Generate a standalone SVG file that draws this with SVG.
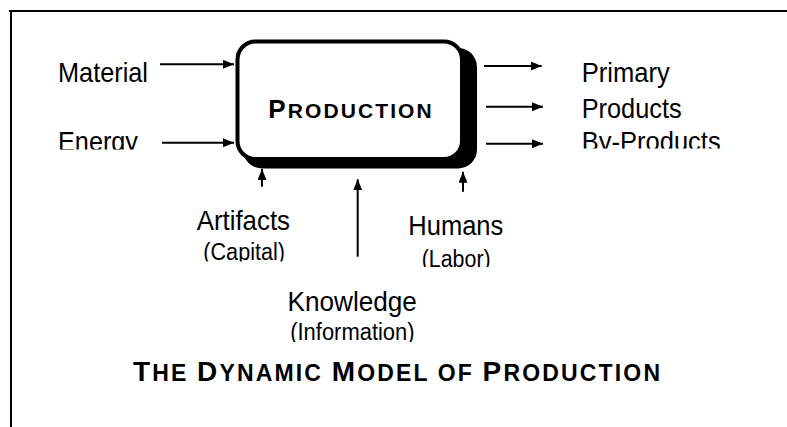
<svg xmlns="http://www.w3.org/2000/svg" width="787" height="427" viewBox="0 0 787 427">
  <style>
    .lbl { font-family: "Liberation Sans", Arial, sans-serif; font-size: 28px; fill: #000; }
    .sub { font-family: "Liberation Sans", Arial, sans-serif; font-size: 23px; fill: #000; }
    .sc { font-family: "Liberation Sans", Arial, sans-serif; font-weight: bold; fill: #000; }
    .big { font-size: 26px; }
    .small { font-size: 21px; }
    .tbig { font-size: 28px; }
    .tsmall { font-size: 23px; }
    .wire { stroke: #000; stroke-width: 2; fill: none; marker-end: url(#head); }
    .frame { stroke: #000; stroke-width: 2; fill: none; }
  </style>
  <defs>
    <marker id="head" markerUnits="userSpaceOnUse" markerWidth="12" markerHeight="10" refX="11" refY="4.5" orient="auto">
      <path d="M0,0 L11,4.5 L0,9 Z" fill="#000"/>
    </marker>
    <clipPath id="clipEnergy"><rect x="40" y="110" width="150" height="39.5"/></clipPath>
    <clipPath id="clipByProducts"><rect x="560" y="110" width="200" height="38.5"/></clipPath>
    <clipPath id="clipCapital"><rect x="180" y="235" width="130" height="26.5"/></clipPath>
    <clipPath id="clipLabor"><rect x="400" y="240" width="120" height="27"/></clipPath>
    <clipPath id="clipInformation"><rect x="270" y="316" width="170" height="26"/></clipPath>
  </defs>

  <rect width="787" height="427" fill="#fff"/>

  <!-- page frame -->
  <g id="frame">
    <line class="frame" x1="9" y1="11" x2="787" y2="11"/>
    <line class="frame" x1="11" y1="10" x2="11" y2="427"/>
  </g>

  <!-- central process box with drop shadow -->
  <g id="production">
    <rect x="243" y="48" width="234" height="120.5" rx="19" fill="#000"/>
    <rect x="237.5" y="41.5" width="224.5" height="117.5" rx="18" fill="#fff" stroke="#000" stroke-width="4"/>
    <text class="sc" x="268.3" y="118.3" textLength="163.4"><tspan class="big">P</tspan><tspan class="small">RODUCTION</tspan></text>
  </g>

  <!-- inputs -->
  <g id="material">
    <text class="lbl" x="58" y="81.7" textLength="90" lengthAdjust="spacingAndGlyphs">Material</text>
  </g>
  <g id="energy" clip-path="url(#clipEnergy)">
    <text class="lbl" x="58" y="151" textLength="80" lengthAdjust="spacingAndGlyphs">Energy</text>
  </g>
  <g id="artifacts">
    <text class="lbl" x="196.7" y="230" textLength="93.3" lengthAdjust="spacingAndGlyphs">Artifacts</text>
    <text class="sub" x="203.3" y="260" textLength="81.7" lengthAdjust="spacingAndGlyphs" clip-path="url(#clipCapital)">(Capital)</text>
  </g>
  <g id="humans">
    <text class="lbl" x="408.3" y="235" textLength="95" lengthAdjust="spacingAndGlyphs">Humans</text>
    <text class="sub" x="421.7" y="266.5" textLength="69" lengthAdjust="spacingAndGlyphs" clip-path="url(#clipLabor)">(Labor)</text>
  </g>
  <g id="knowledge">
    <text class="lbl" x="287.5" y="311" textLength="129.4" lengthAdjust="spacingAndGlyphs">Knowledge</text>
    <text class="sub" x="290.2" y="340" textLength="124.4" lengthAdjust="spacingAndGlyphs" clip-path="url(#clipInformation)">(Information)</text>
  </g>

  <!-- outputs -->
  <g id="primary">
    <text class="lbl" x="581.7" y="81.7" textLength="88" lengthAdjust="spacingAndGlyphs">Primary</text>
  </g>
  <g id="products">
    <text class="lbl" x="581.7" y="118.3" textLength="100" lengthAdjust="spacingAndGlyphs">Products</text>
  </g>
  <g id="by-products" clip-path="url(#clipByProducts)">
    <text class="lbl" x="581.7" y="151" textLength="139" lengthAdjust="spacingAndGlyphs">By-Products</text>
  </g>

  <!-- connectors -->
  <g id="connectors">
    <line class="wire" x1="160" y1="64.3" x2="234" y2="64.3"/>
    <line class="wire" x1="162" y1="142.7" x2="234" y2="142.7"/>
    <line class="wire" x1="484" y1="66" x2="541.7" y2="66"/>
    <line class="wire" x1="486" y1="106.7" x2="543" y2="106.7"/>
    <line class="wire" x1="486" y1="143.7" x2="543" y2="143.7"/>
    <line class="wire" x1="262" y1="186.7" x2="262" y2="169"/>
    <line class="wire" x1="357.7" y1="256.7" x2="357.7" y2="179.3"/>
    <line class="wire" x1="463" y1="191.7" x2="463" y2="171.7"/>
  </g>

  <!-- caption -->
  <g id="caption">
    <text class="sc" x="133" y="381" textLength="527"><tspan class="tbig">T</tspan><tspan class="tsmall">HE </tspan><tspan class="tbig">D</tspan><tspan class="tsmall">YNAMIC </tspan><tspan class="tbig">M</tspan><tspan class="tsmall">ODEL OF </tspan><tspan class="tbig">P</tspan><tspan class="tsmall">RODUCTION</tspan></text>
  </g>
</svg>
